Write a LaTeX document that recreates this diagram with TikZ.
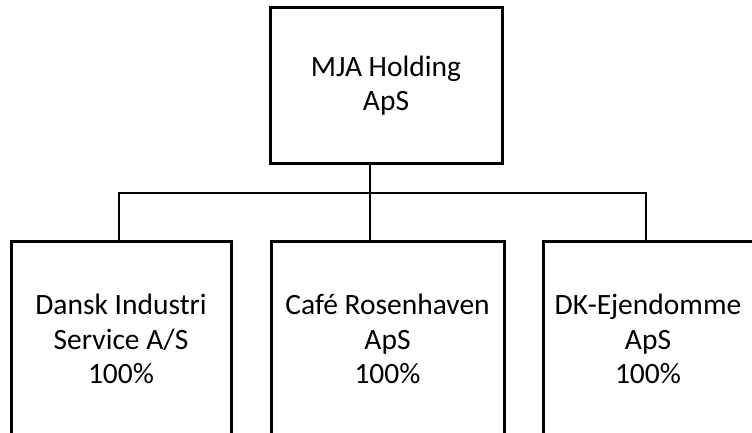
\documentclass[tikz,border=0pt]{standalone}
\usepackage{fontspec}
\setmainfont{Carlito}
\begin{document}
\begin{tikzpicture}[x=1pt,y=-1pt,
  box/.style={draw=black,line width=3pt,fill=none,align=center,inner sep=0pt,
    font=\fontsize{29.5}{34.5}\selectfont,text=black},
  conn/.style={draw=black,line width=2.4pt}]
\useasboundingbox (0,0) rectangle (752,433);
\node[box,minimum width=232pt,minimum height=155pt] (top) at (386,85.5) {MJA Holding\\ApS};
\node[box,minimum width=220pt,minimum height=196pt] (L) at (121,339) {Dansk Industri\\Service A/S\\100\%};
\node[box,minimum width=233pt,minimum height=196pt] (M) at (387.5,339) {Café Rosenhaven\\ApS\\100\%};
\node[box,minimum width=210pt,minimum height=196pt] (R) at (648,339) {DK-Ejendomme\\ApS\\100\%};
\coordinate (busL) at (119,193);
\coordinate (busM) at (370,193);
\coordinate (busR) at (646,193);
\draw[conn] (busL |- L.north) -- (busL) -- (busR) -- (busR |- R.north);
\draw[conn] (busM |- top.south) -- (busM |- M.north);
\end{tikzpicture}
\end{document}
